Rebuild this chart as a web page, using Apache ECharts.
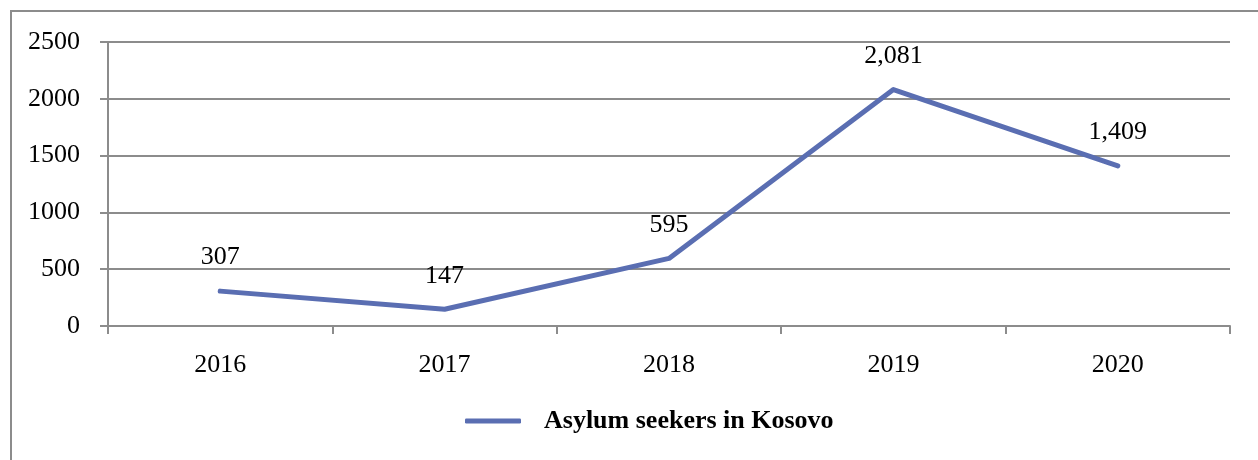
<!DOCTYPE html>
<html>
<head>
<meta charset="utf-8">
<script src="https://cdn.jsdelivr.net/npm/echarts@6/dist/echarts.min.js"></script>
<style>
  html, body { margin: 0; padding: 0; background: #fff; }
  #chart { width: 1258px; height: 460px; }
</style>
</head>
<body>
<div id="chart"></div>
<script>
const years = ['2016', '2017', '2018', '2019', '2020'];
const asylumSeekers = [307, 147, 595, 2081, 1409];
const seriesName = 'Asylum seekers in Kosovo';

const lineColor = '#5a6eb2';
const axisGray = '#8c8c8c';
const font = '"Liberation Serif", "DejaVu Serif", serif';

const chart = echarts.init(document.getElementById('chart'));

chart.setOption({
  backgroundColor: '#fff',
  animation: false,
  graphic: [
    {
      type: 'rect',
      shape: { x: 11, y: 11, width: 1300, height: 500 },
      style: { fill: 'none', stroke: axisGray, lineWidth: 2 },
      silent: true,
    },
  ],
  grid: {
    left: 108,
    right: 28,
    top: 42,
    bottom: 134,
  },
  legend: {
    bottom: 21,
    left: 460,
    itemWidth: 56,
    itemHeight: 5,
    itemGap: 10,
    icon: 'roundRect',
    textStyle: {
      fontFamily: font,
      fontWeight: 'bold',
      fontSize: 26,
      color: '#000',
      padding: [0, 0, 0, 18],
    },
    data: [seriesName],
  },
  xAxis: {
    type: 'category',
    data: years,
    boundaryGap: true,
    axisLine: { lineStyle: { color: axisGray, width: 2 } },
    axisTick: { show: true, length: 8, lineStyle: { color: axisGray, width: 2 } },
    axisLabel: { margin: 26, fontFamily: font, fontSize: 26, color: '#000' },
  },
  yAxis: {
    type: 'value',
    min: 0,
    max: 2500,
    interval: 500,
    axisLine: { show: true, lineStyle: { color: axisGray, width: 2 } },
    axisTick: { show: true, length: 8, lineStyle: { color: axisGray, width: 2 } },
    splitLine: { show: true, lineStyle: { color: axisGray, width: 2 } },
    axisLabel: {
      margin: 28,
      fontFamily: font,
      fontSize: 26,
      color: '#000',
      formatter: function (value) {
        return String(value);
      },
    },
  },
  series: [
    {
      name: seriesName,
      type: 'line',
      data: asylumSeekers,
      symbol: 'circle',
      symbolSize: 1,
      showSymbol: true,
      lineStyle: { color: lineColor, width: 5, cap: 'round', join: 'round' },
      itemStyle: { color: lineColor },
      label: {
        show: true,
        position: 'top',
        distance: 20,
        fontFamily: font,
        fontSize: 26,
        color: '#000',
        formatter: function (params) {
          return params.value.toLocaleString('en-US');
        },
      },
    },
  ],
});
</script>
</body>
</html>
